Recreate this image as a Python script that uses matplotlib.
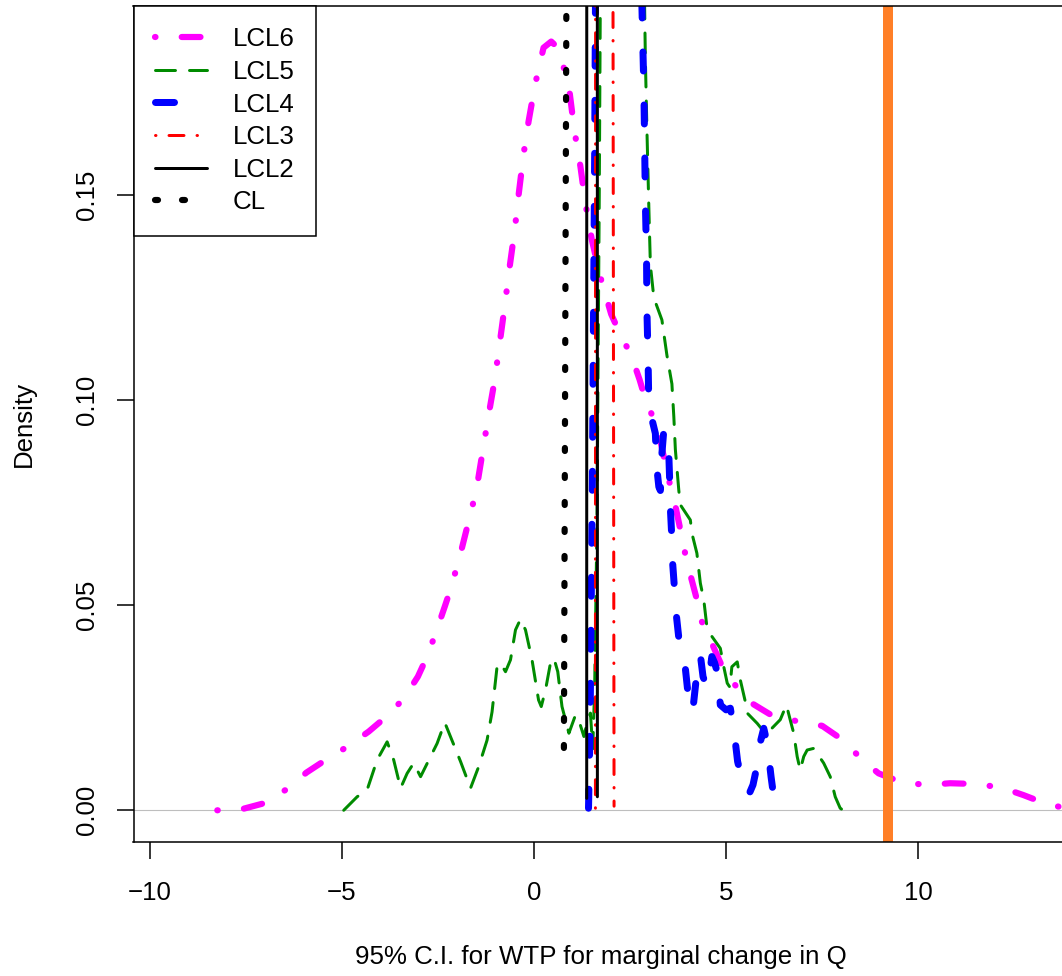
import numpy as np
import matplotlib
matplotlib.use('Agg')
import matplotlib.pyplot as plt

plt.rcParams['font.family'] = ['Liberation Sans', 'DejaVu Sans']
plt.rcParams['lines.scale_dashes'] = False
plt.rcParams['lines.dash_capstyle'] = 'round'
plt.rcParams['lines.solid_capstyle'] = 'round'

# density curves, values
lcl6_x = [-8.24, -7.59, -7.03, -6.44, -5.92, -5.45, -4.86, -4.30, -3.86, -3.39, -3.02, -2.78,
          -2.55, -2.32, -2.15, -1.90, -1.50, -1.18, -1.02, -0.89, -0.76, -0.64, -0.50, -0.40,
          -0.27, -0.14, 0.03, 0.25, 0.45, 0.62, 0.78, 0.93, 1.05, 1.21, 1.34, 1.51, 1.73, 2.01,
          2.25, 2.53, 2.75, 2.94, 3.20, 3.51, 3.64, 3.78, 3.97, 4.22, 4.37, 4.63, 4.90, 5.27,
          5.67, 6.25, 6.93, 7.50, 8.06, 8.54, 8.97, 9.60, 10.27, 10.83, 11.54, 12.18, 12.74,
          13.35, 13.9]
lcl6_y = [0.0, 0.0003, 0.0017, 0.0051, 0.0092, 0.0121, 0.0155, 0.0192, 0.0227, 0.0272, 0.0326,
          0.0375, 0.0434, 0.0497, 0.0545, 0.063, 0.078, 0.0964, 0.105, 0.114, 0.123, 0.132,
          0.1415, 0.150, 0.160, 0.168, 0.177, 0.186, 0.1875, 0.186, 0.181, 0.175, 0.166, 0.157,
          0.148, 0.139, 0.130, 0.121, 0.116, 0.111, 0.105, 0.099, 0.094, 0.0806, 0.076, 0.0698,
          0.061, 0.0521, 0.046, 0.0407, 0.035, 0.0301, 0.0261, 0.0228, 0.0216, 0.0206, 0.0170,
          0.0123, 0.0090, 0.0067, 0.0062, 0.0066, 0.0064, 0.0055, 0.0037, 0.0015, 0.0004]

lcl5_x = [-4.95, -4.60, -4.34, -4.08, -3.82, -3.65, -3.47, -3.30, -3.13, -2.95, -2.52, -2.32,
          -1.91, -1.65, -1.44, -1.22, -1.09, -0.96, -0.87, -0.74, -0.61, -0.48, -0.35, -0.22,
          -0.05, 0.12, 0.19, 0.30, 0.43, 0.52, 0.62, 0.73, 0.91, 1.08, 1.20, 1.30, 1.40, 1.47,
          1.53, 1.58, 1.64, 1.70, 1.74, 2.30, 2.84, 2.88, 2.90, 2.94, 2.99, 3.03, 3.12, 3.33,
          3.46, 3.59, 3.64, 3.68, 3.77, 3.81, 4.07, 4.11, 4.24, 4.33, 4.42, 4.50, 4.57, 4.85,
          4.94, 5.03, 5.10, 5.15, 5.29, 5.37, 5.50, 5.55, 5.81, 6.00, 6.15, 6.41, 6.57, 6.67,
          6.76, 6.85, 6.93, 7.02, 7.11, 7.28, 7.54, 7.71, 7.84, 7.97, 8.05]
lcl5_y = [0.0, 0.0033, 0.005, 0.0123, 0.0167, 0.0123, 0.0054, 0.009, 0.0115, 0.0082, 0.0163,
          0.0214, 0.0119, 0.0054, 0.0106, 0.0171, 0.024, 0.035, 0.0359, 0.0338, 0.0367, 0.044,
          0.0466, 0.044, 0.0367, 0.0269, 0.0253, 0.0293, 0.0359, 0.0371, 0.0338, 0.0253, 0.0188,
          0.0232, 0.021, 0.018, 0.022, 0.0237, 0.015, 0.03, 0.07, 0.15, 0.22, 0.50, 0.25, 0.196,
          0.183, 0.166, 0.147, 0.133, 0.125, 0.1196, 0.111, 0.104, 0.096, 0.088, 0.078, 0.0745,
          0.0708, 0.0676, 0.0627, 0.0554, 0.0513, 0.0448, 0.0432, 0.0395, 0.035, 0.031, 0.030,
          0.035, 0.0362, 0.0318, 0.0265, 0.0237, 0.0212, 0.019, 0.0196, 0.0221, 0.0257, 0.022,
          0.0188, 0.0131, 0.0098, 0.0131, 0.0147, 0.0151, 0.0115, 0.0082, 0.0033, 0.0005, 0.0]

lcl4_x = [1.42, 1.46, 1.52, 1.58, 1.62, 2.20, 2.78, 2.81, 2.86, 2.88, 2.90, 2.93, 2.94, 2.97,
          2.99, 3.08, 3.16, 3.19, 3.25, 3.29, 3.33, 3.38, 3.45, 3.51, 3.53, 3.55, 3.58, 3.61,
          3.65, 3.71, 3.77, 3.85, 3.94, 4.00, 4.07, 4.14, 4.20, 4.27, 4.33, 4.40, 4.50, 4.58,
          4.63, 4.70, 4.78, 4.85, 5.00, 5.11, 5.18, 5.24, 5.30, 5.45, 5.60, 5.70, 5.80, 5.90,
          5.98, 6.07, 6.17, 6.24, 6.29]
lcl4_y = [0.0005, 0.02, 0.08, 0.16, 0.23, 0.55, 0.23, 0.196, 0.176, 0.163, 0.148, 0.135, 0.122,
          0.110, 0.0984, 0.095, 0.0919, 0.0842, 0.0789, 0.078, 0.087, 0.0928, 0.091, 0.0867,
          0.081, 0.0737, 0.068, 0.0602, 0.055, 0.0472, 0.042, 0.038, 0.0346, 0.0293, 0.024,
          0.0249, 0.0301, 0.036, 0.0379, 0.0326, 0.030, 0.034, 0.0375, 0.036, 0.0334, 0.0257,
          0.0245, 0.0249, 0.021, 0.0167, 0.0119, 0.006, 0.004, 0.0062, 0.0106, 0.017, 0.020,
          0.0163, 0.0082, 0.0033, 0.0005]

lcl3_x = [1.60, 1.605, 1.83, 2.05, 2.085]
lcl3_y = [0.0005, 0.25, 1.20, 0.25, 0.001]

lcl2_x = [1.373, 1.375, 1.51, 1.649, 1.651]
lcl2_y = [0.0029, 0.30, 2.00, 0.30, 0.0033]

cl_x = [0.78, 0.845, 0.85]
cl_y = [0.0152, 0.20, 0.22]

wtp_true = 9.22

x_ticks = [-10, -5, 0, 5, 10]
y_ticks = [0.00, 0.05, 0.10, 0.15]
y_labels = ['0.00', '0.05', '0.10', '0.15']

px = 0.72  # points per pixel at dpi 100
fs = 18.6

fig = plt.figure(figsize=(10.62, 9.76), dpi=100)
ax = fig.add_axes([133.5/1062, (976-841.7)/976, (1068.5-133.5)/1062, (841.7-5.5)/976])

ax.axhline(0, color='#bebebe', lw=0.8, zorder=1)
l6, = ax.plot(lcl6_x, lcl6_y, color='#ff00ff', lw=6.2*px,
              ls=(0, (0.5*px, 26.2*px, 18.8*px, 26.2*px)), label='LCL6')
l5, = ax.plot(lcl5_x, lcl5_y, color='#008b00', lw=3.0*px,
              ls=(0, (20*px, 14*px)), label='LCL5')
l4, = ax.plot(lcl4_x, lcl4_y, color='#0000ff', lw=7.0*px,
              ls=(0, (19*px, 34*px)), label='LCL4')
l3, = ax.plot(lcl3_x, lcl3_y, color='#ff0000', lw=3.0*px,
              ls=(0, (0.5*px, 13*px, 15*px, 13*px)), label='LCL3')
l2, = ax.plot(lcl2_x, lcl2_y, color='black', lw=3.0*px, ls='-', label='LCL2')
l1, = ax.plot(cl_x, cl_y, color='black', lw=6.2*px, ls=(0, (3*px, 24*px)), label='CL')
ax.axvline(wtp_true, color='#ff7f27', lw=10*px, solid_capstyle='butt')

ax.set_xlim(-10.42, 13.91)
ax.set_ylim(-0.00766, 0.19629)
ax.set_xticks(x_ticks)
ax.set_yticks(y_ticks)
ax.set_yticklabels(y_labels)
ax.tick_params(axis='both', direction='out', length=12, width=1.1, labelsize=fs)
ax.tick_params(axis='x', pad=16.5)
ax.tick_params(axis='y', pad=13, labelrotation=90)
for t in ax.get_yticklabels():
    t.set_va('center')
for s in ax.spines.values():
    s.set_linewidth(1.1)

ax.set_xlabel('95% C.I. for WTP for marginal change in Q', fontsize=fs)
ax.xaxis.set_label_coords(0.5, -0.1235)
ax.set_ylabel('Density', fontsize=fs)
ax.yaxis.set_label_coords((36-133.5)/935, 0.5)

leg = ax.legend(handles=[l6, l5, l4, l3, l2, l1], loc='upper left', bbox_to_anchor=(0, 1),
                borderaxespad=0, fancybox=False, framealpha=1, edgecolor='black',
                fontsize=fs, handlelength=1.98, handletextpad=1.0, borderpad=0.85,
                labelspacing=0.33)
leg.get_frame().set_linewidth(1.1)

plt.savefig('out.png', dpi=100)
